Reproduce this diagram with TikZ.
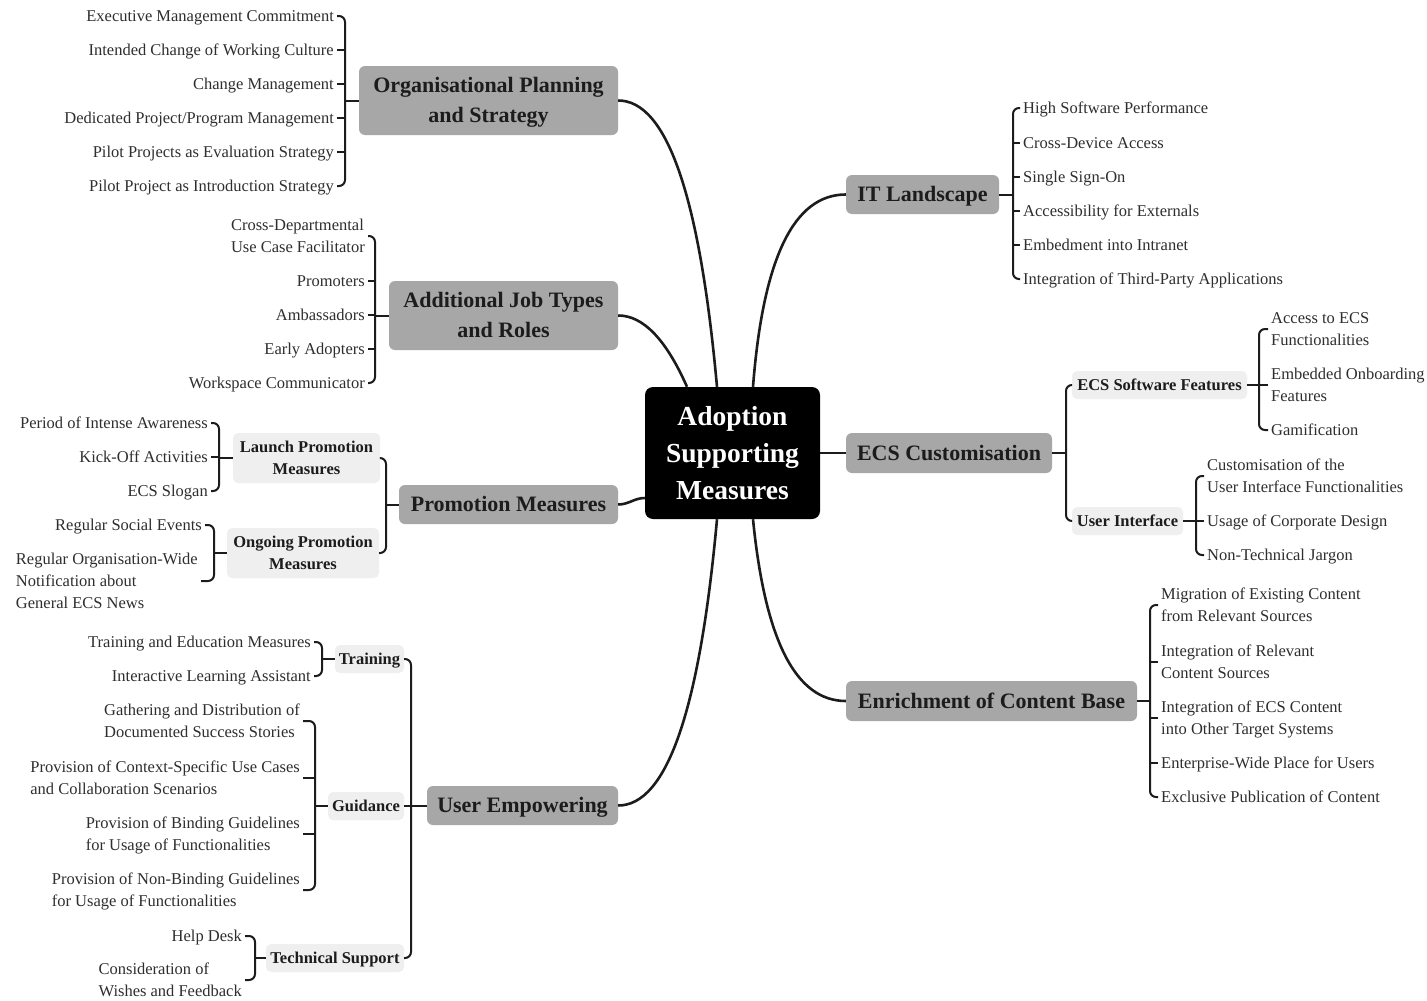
\documentclass[tikz,border=0pt]{standalone}
\usepackage{fontspec}
\setmainfont{Liberation Serif}
\definecolor{topicgray}{HTML}{A7A7A7}
\definecolor{subgray}{HTML}{EFEFEF}
\definecolor{ink}{HTML}{1C1C1C}
\definecolor{leafink}{HTML}{2E2E2E}
% line strut with the font's ascent and descent, so every line sits at the same height
\newcommand\ls{\rule[-0.216em]{0pt}{1.107em}}
\tikzset{
  struts/.style={execute at end node=\ls},
  rootbox/.style={struts, fill=black, text=white, rounded corners=8pt, inner sep=0pt, align=center,
    font=\fontsize{27.5}{37}\selectfont\bfseries, minimum width=175pt, minimum height=132pt},
  topic/.style={struts, fill=topicgray, text=ink, rounded corners=6pt, inner sep=0pt, align=center,
    font=\fontsize{22}{30}\selectfont\bfseries, minimum height=39pt},
  subtopic/.style={struts, fill=subgray, text=ink, rounded corners=5pt, inner sep=0pt, align=center,
    font=\fontsize{16.5}{22}\selectfont\bfseries, minimum height=28pt},
  leafbase/.style={struts, text=leafink, font=\fontsize{16.5}{22}\selectfont, inner xsep=3pt, inner ysep=0pt, align=left},
  leafL/.style={leafbase, anchor=east},
  leafR/.style={leafbase, anchor=west},
  trunk/.style={draw=ink, line width=2.6pt},
  brace/.style={draw=ink, line width=2pt, rounded corners=6pt},
}
\begin{document}
\begin{tikzpicture}[x=1pt,y=-1pt]
\fill[white] (0,0) rectangle (1427,1001);
\useasboundingbox (0,0) rectangle (1427,1001);

% ---------- central topic and main branches ----------
\node[rootbox] (root) at (732.5,453) {\ls Adoption\\Supporting\\Measures};

\node[topic, minimum width=259pt, minimum height=69pt] (org) at (488.5,100.5) {\ls Organisational Planning\\and Strategy};
\node[topic, minimum width=229pt, minimum height=69pt] (add) at (503.5,315.5) {\ls Additional Job Types\\and Roles};
\node[topic, minimum width=219pt] (prom) at (508.5,504.5) {\ls Promotion Measures};
\node[topic, minimum width=191pt] (user) at (522.5,805.5) {\ls User Empowering};
\node[topic, minimum width=153pt] (it) at (922.5,194.5) {\ls IT Landscape};
\node[topic, minimum width=206pt, minimum height=40pt] (ecs) at (949,453) {\ls ECS Customisation};
\node[topic, minimum width=291pt, minimum height=40pt] (enr) at (991.5,701) {\ls Enrichment of Content Base};

% curved trunks from the central topic
\draw[trunk] (org.east) .. controls +(48.7,0) and +(-17.3,-190.7) .. ([xshift=-15.5pt]root.north);
\draw[trunk] (add.east) .. controls +(24.7,0) and +(-21.3,-48) .. ([xshift=-45.5pt]root.north);
\draw[trunk] (it.west) .. controls +(-52,0) and +(10,-128.7) .. ([xshift=20.5pt]root.north);
\draw[trunk] (prom.east) to[out=0,in=180] ([yshift=-45pt]root.west);
\draw[trunk] (ecs.west) -- (root.east);
\draw[trunk] (user.east) .. controls +(48.7,0) and +(-17.3,190.7) .. ([xshift=-15.5pt]root.south);
\draw[trunk] (enr.west) .. controls +(-50,0) and +(12,121.3) .. ([xshift=20.5pt]root.south);

% ---------- Organisational Planning and Strategy ----------
\node[leafL] (o1) at (337,16) {\ls Executive Management Commitment};
\node[leafL] (o2) at (337,50) {\ls Intended Change of Working Culture};
\node[leafL] (o3) at (337,84) {\ls Change Management};
\node[leafL] (o4) at (337,118) {\ls Dedicated Project/Program Management};
\node[leafL] (o5) at (337,152) {\ls Pilot Projects as Evaluation Strategy};
\node[leafL] (o6) at (337,186) {\ls Pilot Project as Introduction Strategy};
\coordinate (hO) at (345,100.5);
\draw[brace] (o1.east) -| (hO) |- (o6.east);
\foreach \n in {o2,o3,o4,o5} \draw[brace] (\n.east) -- (\n.east -| hO);
\draw[brace] (hO) -- (org.west);

% ---------- Additional Job Types and Roles ----------
\node[leafL] (a1) at (368,236) {\ls Cross-Departmental\\Use Case Facilitator};
\node[leafL] (a2) at (368,281) {\ls Promoters};
\node[leafL] (a3) at (368,315) {\ls Ambassadors};
\node[leafL] (a4) at (368,349) {\ls Early Adopters};
\node[leafL] (a5) at (368,383) {\ls Workspace Communicator};
\coordinate (hA) at (375,315.5);
\draw[brace] (a1.east) -| (hA) |- (a5.east);
\foreach \n in {a2,a3,a4} \draw[brace] (\n.east) -- (\n.east -| hA);
\draw[brace] (hA) -- (add.west);

% ---------- Promotion Measures ----------
\node[subtopic, minimum width=147pt, minimum height=50pt] (launch) at (306.5,458) {\ls Launch Promotion\\Measures};
\node[subtopic, minimum width=152pt, minimum height=50pt] (ongoing) at (303,553) {\ls Ongoing Promotion\\Measures};
\coordinate (hP) at (386,504.5);
\draw[brace] (launch.east) -| (hP) |- (ongoing.east);
\draw[brace] (hP) -- (prom.west);

\node[leafL] (p1) at (211,423) {\ls Period of Intense Awareness};
\node[leafL] (p2) at (211,457) {\ls Kick-Off Activities};
\node[leafL] (p3) at (211,491) {\ls ECS Slogan};
\coordinate (hL) at (219,458);
\draw[brace] (p1.east) -| (hL) |- (p3.east);
\draw[brace] (p2.east) -- (p2.east -| hL);
\draw[brace] (hL) -- (launch.west);

\node[leafL] (q1) at (205,525) {\ls Regular Social Events};
\node[leafL] (q2) at (201,581) {\ls Regular Organisation-Wide\\Notification about\\General ECS News};
\coordinate (hG) at (214,553);
\draw[brace] (q1.east) -| (hG) |- (q2.east);
\draw[brace] (hG) -- (ongoing.west);

% ---------- User Empowering ----------
\node[subtopic, minimum width=69pt] (train) at (369.5,659) {\ls Training};
\node[subtopic, minimum width=76pt] (guide) at (366,806) {\ls Guidance};
\node[subtopic, minimum width=138pt] (tech) at (335,958) {\ls Technical Support};
\coordinate (hU) at (411,805.5);
\draw[brace] (train.east) -| (hU) |- (tech.east);
\draw[brace] (guide.east) -- (guide.east -| hU);
\draw[brace] (hU) -- (user.west);

\node[leafL] (t1) at (314,642) {\ls Training and Education Measures};
\node[leafL] (t2) at (314,676) {\ls Interactive Learning Assistant};
\coordinate (hT) at (322,659);
\draw[brace] (t1.east) -| (hT) |- (t2.east);
\draw[brace] (hT) -- (train.west);

\node[leafL] (g1) at (303,721) {\ls Gathering and Distribution of\\Documented Success Stories};
\node[leafL] (g2) at (303,778) {\ls Provision of Context-Specific Use Cases\\and Collaboration Scenarios};
\node[leafL] (g3) at (303,834) {\ls Provision of Binding Guidelines\\for Usage of Functionalities};
\node[leafL] (g4) at (303,890) {\ls Provision of Non-Binding Guidelines\\for Usage of Functionalities};
\coordinate (hD) at (315,806);
\draw[brace] (g1.east) -| (hD) |- (g4.east);
\foreach \n in {g2,g3} \draw[brace] (\n.east) -- (\n.east -| hD);
\draw[brace] (hD) -- (guide.west);

\node[leafL] (s1) at (245,936) {\ls Help Desk};
\node[leafL] (s2) at (245,980) {\ls Consideration of\\Wishes and Feedback};
\coordinate (hS) at (255,958);
\draw[brace] (s1.east) -| (hS) |- (s2.east);
\draw[brace] (hS) -- (tech.west);

% ---------- IT Landscape ----------
\node[leafR] (i1) at (1020,108) {\ls High Software Performance};
\node[leafR] (i2) at (1020,143) {\ls Cross-Device Access};
\node[leafR] (i3) at (1020,177) {\ls Single Sign-On};
\node[leafR] (i4) at (1020,211) {\ls Accessibility for Externals};
\node[leafR] (i5) at (1020,245) {\ls Embedment into Intranet};
\node[leafR] (i6) at (1020,279) {\ls Integration of Third-Party Applications};
\coordinate (hI) at (1013,194.5);
\draw[brace] (i1.west) -| (hI) |- (i6.west);
\foreach \n in {i2,i3,i4,i5} \draw[brace] (\n.west) -- (\n.west -| hI);
\draw[brace] (hI) -- (it.east);

% ---------- ECS Customisation ----------
\node[subtopic, minimum width=175pt] (sfeat) at (1159.5,385) {\ls ECS Software Features};
\node[subtopic, minimum width=111pt] (uif) at (1127.5,521) {\ls User Interface};
\coordinate (hE) at (1066,453);
\draw[brace] (sfeat.west) -| (hE) |- (uif.west);
\draw[brace] (hE) -- (ecs.east);

\node[leafR] (f1) at (1268,329) {\ls Access to ECS\\Functionalities};
\node[leafR] (f2) at (1268,385) {\ls Embedded Onboarding\\Features};
\node[leafR] (f3) at (1268,430) {\ls Gamification};
\coordinate (hF) at (1259,385);
\draw[brace] (f1.west) -| (hF) |- (f3.west);
\draw[brace] (f2.west) -- (f2.west -| hF);
\draw[brace] (hF) -- (sfeat.east);

\node[leafR] (u1) at (1204,476) {\ls Customisation of the\\User Interface Functionalities};
\node[leafR] (u2) at (1204,521) {\ls Usage of Corporate Design};
\node[leafR] (u3) at (1204,555) {\ls Non-Technical Jargon};
\coordinate (hV) at (1196,521);
\draw[brace] (u1.west) -| (hV) |- (u3.west);
\draw[brace] (u2.west) -- (u2.west -| hV);
\draw[brace] (hV) -- (uif.east);

% ---------- Enrichment of Content Base ----------
\node[leafR] (e1) at (1158,605) {\ls Migration of Existing Content\\from Relevant Sources};
\node[leafR] (e2) at (1158,662) {\ls Integration of Relevant\\Content Sources};
\node[leafR] (e3) at (1158,718) {\ls Integration of ECS Content\\into Other Target Systems};
\node[leafR] (e4) at (1158,763) {\ls Enterprise-Wide Place for Users};
\node[leafR] (e5) at (1158,797) {\ls Exclusive Publication of Content};
\coordinate (hR) at (1150,701);
\draw[brace] (e1.west) -| (hR) |- (e5.west);
\foreach \n in {e2,e3,e4} \draw[brace] (\n.west) -- (\n.west -| hR);
\draw[brace] (hR) -- (enr.east);
\end{tikzpicture}
\end{document}
